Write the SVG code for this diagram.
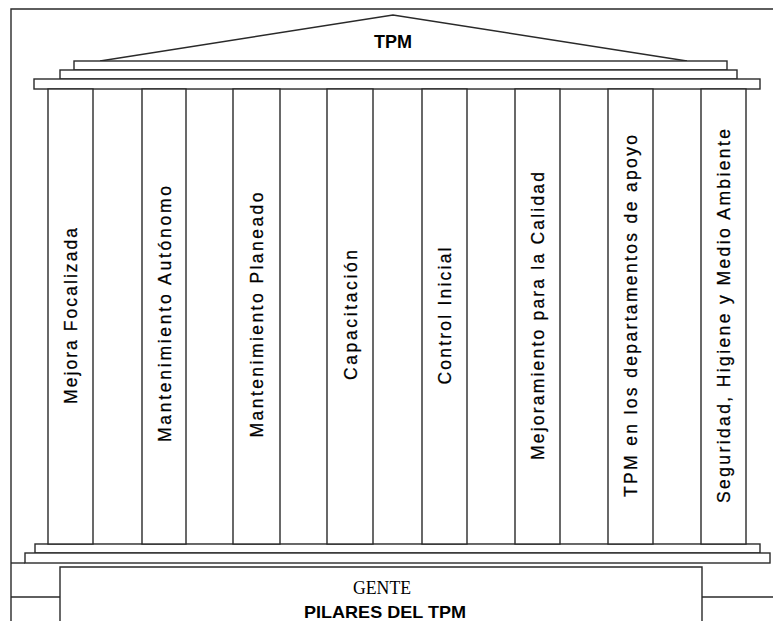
<svg xmlns="http://www.w3.org/2000/svg" width="773" height="621" viewBox="0 0 773 621">
<style>
.ln{fill:none;stroke:#2a2a2a;stroke-width:1.4}
.bx{fill:#fff;stroke:#2a2a2a;stroke-width:1.4}
.lbl{font-family:"Liberation Sans",Arial,sans-serif;font-size:17.5px;fill:#000;text-anchor:middle;stroke:#000;stroke-width:0.25}
</style>
<rect width="773" height="621" fill="#fff"/>
<g id="frame">
<path class="ln" d="M11,621 V9 H773"/>
<line class="ln" x1="11" y1="597" x2="60" y2="597"/>
<line class="ln" x1="702" y1="597" x2="773" y2="597"/>
</g>
<g id="roof">
<polyline class="ln" points="100,61 393,15 687,61"/>
<rect class="bx" x="74" y="61" width="653" height="9"/>
<rect class="bx" x="60" y="70" width="677" height="9"/>
<rect class="bx" x="34" y="79" width="726" height="10"/>
<text x="393" y="48" font-family="Liberation Sans,Arial,sans-serif" font-size="18" font-weight="bold" text-anchor="middle" fill="#000">TPM</text>
</g>
<g id="base">
<line class="ln" x1="11" y1="563" x2="25" y2="563"/>
<rect class="bx" x="35" y="544" width="725" height="9"/>
<rect class="bx" x="25" y="553" width="745" height="10"/>
<path class="bx" d="M60,621 V567 H702 V621"/>
<text x="382" y="594" font-family="Liberation Serif,Times New Roman,serif" font-size="18" text-anchor="middle" fill="#000" textLength="58" lengthAdjust="spacingAndGlyphs">GENTE</text>
<text x="385" y="618" font-family="Liberation Sans,Arial,sans-serif" font-size="17" font-weight="bold" text-anchor="middle" fill="#000" textLength="162" lengthAdjust="spacingAndGlyphs">PILARES DEL TPM</text>
</g>
<g id="pilar1"><rect class="bx" x="48" y="89" width="45" height="455"/><text class="lbl" transform="translate(77,316) rotate(-90)" textLength="176">Mejora Focalizada</text></g>
<g id="pilar2"><rect class="bx" x="142" y="89" width="44" height="455"/><text class="lbl" transform="translate(170.5,314) rotate(-90)" textLength="256">Mantenimiento Autónomo</text></g>
<g id="pilar3"><rect class="bx" x="233" y="89" width="47" height="455"/><text class="lbl" transform="translate(263,315) rotate(-90)" textLength="245">Mantenimiento Planeado</text></g>
<g id="pilar4"><rect class="bx" x="327" y="89" width="46" height="455"/><text class="lbl" transform="translate(356.5,315) rotate(-90)" textLength="130">Capacitación</text></g>
<g id="pilar5"><rect class="bx" x="422" y="89" width="45" height="455"/><text class="lbl" transform="translate(451,316) rotate(-90)" textLength="137">Control Inicial</text></g>
<g id="pilar6"><rect class="bx" x="515" y="89" width="45" height="455"/><text class="lbl" transform="translate(544,316) rotate(-90)" textLength="288">Mejoramiento para la Calidad</text></g>
<g id="pilar7"><rect class="bx" x="608" y="89" width="45" height="455"/><text class="lbl" transform="translate(637,316) rotate(-90)" textLength="362">TPM en los departamentos de apoyo</text></g>
<g id="pilar8"><rect class="bx" x="701" y="89" width="45" height="455"/><text class="lbl" transform="translate(730,316) rotate(-90)" textLength="374">Seguridad, Higiene y Medio Ambiente</text></g>
</svg>
